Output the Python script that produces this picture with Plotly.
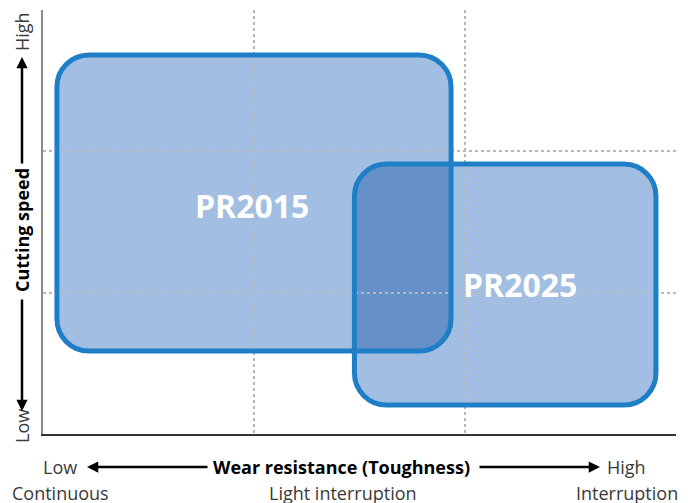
import plotly.graph_objects as go

# ---- data ----
grades = ["PR2015", "PR2025"]
wear_start = [0.066, 1.476]     # x (wear resistance / toughness), 0..3
wear_end = [1.934, 2.905]
speed_start = [0.587, 0.205]    # y (cutting speed), 0..3
speed_end = [2.682, 1.910]
label_x = [0.99, 2.26]
label_y = [1.62, 1.06]
x_bottom_labels = ["Continuous", "Light interruption", "Interruption"]
x_bottom_pos = [0.027, 0.474, 0.922]
grid_vals = [1, 2]

FILL = "#A2BEE3"
OVERLAP = "#6590C8"
EDGE = "#1E7EC6"

W, H = 688, 503
ML, MR, MT, MB = 43, 12, 10, 69
pw, ph = W - ML - MR, H - MT - MB
xr, yr = [0, 3], [0, 3]
R = 32  # corner radius, px
rx = R * (xr[1] - xr[0]) / pw
ry = R * (yr[1] - yr[0]) / ph
K = 0.5523


def rr_path(x0, x1, y0, y1, round_tl=True, round_tr=True, round_br=True, round_bl=True):
    p = []
    p.append(f"M{x0 + rx},{y1}" if round_tl else f"M{x0},{y1}")
    if round_tr:
        p.append(f"L{x1 - rx},{y1}")
        p.append(f"C{x1 - rx + K * rx},{y1} {x1},{y1 - ry + K * ry} {x1},{y1 - ry}")
    else:
        p.append(f"L{x1},{y1}")
    if round_br:
        p.append(f"L{x1},{y0 + ry}")
        p.append(f"C{x1},{y0 + ry - K * ry} {x1 - rx + K * rx},{y0} {x1 - rx},{y0}")
    else:
        p.append(f"L{x1},{y0}")
    if round_bl:
        p.append(f"L{x0 + rx},{y0}")
        p.append(f"C{x0 + rx - K * rx},{y0} {x0},{y0 + ry - K * ry} {x0},{y0 + ry}")
    else:
        p.append(f"L{x0},{y0}")
    if round_tl:
        p.append(f"L{x0},{y1 - ry}")
        p.append(f"C{x0},{y1 - ry + K * ry} {x0 + rx - K * rx},{y1} {x0 + rx},{y1}")
    else:
        p.append(f"L{x0},{y1}")
    p.append("Z")
    return " ".join(p)


shapes = []
for i in range(len(grades)):
    shapes.append(dict(type="path", xref="x", yref="y", layer="below",
                       path=rr_path(wear_start[i], wear_end[i], speed_start[i], speed_end[i]),
                       fillcolor=FILL, line=dict(width=0)))

ox0, ox1 = max(wear_start), min(wear_end)
oy0, oy1 = max(speed_start), min(speed_end)
shapes.append(dict(type="path", xref="x", yref="y", layer="below",
                   path=rr_path(ox0, ox1, oy0, oy1, round_tl=True, round_tr=False,
                                round_br=True, round_bl=False),
                   fillcolor=OVERLAP, line=dict(width=0)))

for i in range(len(grades)):
    shapes.append(dict(type="path", xref="x", yref="y", layer="above",
                       path=rr_path(wear_start[i], wear_end[i], speed_start[i], speed_end[i]),
                       fillcolor="rgba(0,0,0,0)", line=dict(color=EDGE, width=5)))

fig = go.Figure()
fig.add_trace(go.Scatter(x=[None], y=[None], showlegend=False, hoverinfo="skip"))

FONT = "Open Sans"
TXT = "#3a3a3a"


def ann(x, y, text, size=18, color=TXT, angle=0):
    return dict(x=x, y=y, xref="paper", yref="paper", text=text, showarrow=False,
                xanchor="center", yanchor="middle", textangle=angle,
                font=dict(family=FONT, size=size, color=color))


def arrow(x, y, ax, ay):
    return dict(x=x, y=y, xref="paper", yref="paper", text="", showarrow=True,
                ax=ax, ay=ay, arrowhead=2, arrowsize=0.9, arrowwidth=2.5, arrowcolor="black")


annotations = []
for i, g in enumerate(grades):
    annotations.append(dict(x=label_x[i], y=label_y[i], xref="x", yref="y", text=f"<b>{g}</b>",
                            showarrow=False, xanchor="center", yanchor="middle",
                            font=dict(family=FONT, size=32, color="white")))

yb1 = -(467 - (MT + ph)) / ph
yb2 = -(493 - (MT + ph)) / ph
annotations += [
    ann(x_bottom_pos[0], yb1, "Low"),
    ann(x_bottom_pos[2], yb1, "High"),
    ann(x_bottom_pos[1] - 0.003, yb1, "<b>Wear resistance (Toughness)</b>", color="black"),
]
for lab, xp in zip(x_bottom_labels, x_bottom_pos):
    annotations.append(ann(xp, yb2, lab))

annotations += [
    arrow((87 - ML) / pw, yb1, 122, 0),
    arrow((600 - ML) / pw, yb1, -122, 0),
]

xl = (22 - ML) / pw
annotations += [
    ann(xl, (MT + ph - 32) / ph, "High", angle=-90),
    ann(xl, (MT + ph - 426) / ph, "Low", angle=-90),
    ann(xl, (MT + ph - 230) / ph, "<b>Cutting speed</b>", color="black", angle=-90),
    arrow(xl, (MT + ph - 57) / ph, 0, 108),
    arrow(xl, (MT + ph - 411) / ph, 0, -113),
]

fig.update_layout(
    width=W, height=H,
    margin=dict(l=ML, r=MR, t=MT, b=MB, pad=0),
    paper_bgcolor="white", plot_bgcolor="white",
    showlegend=False,
    hovermode=False,
    shapes=shapes,
    annotations=annotations,
    xaxis=dict(range=xr, tickvals=grid_vals, showticklabels=False, ticks="",
               showgrid=True, gridcolor="#b8b8b8", griddash="dot", gridwidth=1.5,
               zeroline=False, showline=True, linecolor="#333333", linewidth=1.5,
               fixedrange=True),
    yaxis=dict(range=yr, tickvals=grid_vals, showticklabels=False, ticks="",
               showgrid=True, gridcolor="#b8b8b8", griddash="dot", gridwidth=1.5,
               zeroline=False, showline=True, linecolor="#8a8a8a", linewidth=1.5,
               fixedrange=True),
)

fig.write_html("out.html", config={"displayModeBar": False},
               post_script="document.body.style.margin='0';document.body.style.overflow='hidden';")
